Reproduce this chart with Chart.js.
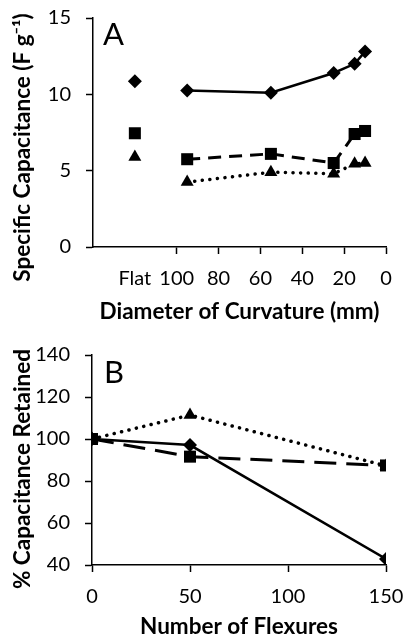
<!DOCTYPE html>
<html><head><meta charset="utf-8">
<script src="https://cdn.jsdelivr.net/npm/chart.js@4"></script>
<style>
html,body{margin:0;padding:0;background:#fff;width:405px;height:638px;overflow:hidden;}
#a{position:absolute;left:0;top:0;width:405px;height:330px;}
#b{position:absolute;left:0;top:320px;width:405px;height:318px;}
</style></head><body>
<div id="a"><canvas id="ca"></canvas></div>
<div id="b"><canvas id="cb"></canvas></div>
<script>
// ---------- Panel A data ----------
const diameterMM = [95, 55, 25, 15, 10];          // diameter of curvature (mm)
const flatPosition = 120;                          // where the "Flat" category sits on the axis
const flatValues = [10.85, 7.45, 5.9];             // diamond, square, triangle at Flat
const capDiamond  = [10.25, 10.1, 11.4, 12.0, 12.8];
const capSquare   = [5.75, 6.1, 5.5, 7.4, 7.6];
const capTriangle = [4.25, 4.9, 4.8, 5.45, 5.5];
const xTickLabelsA = {0:'0',20:'20',40:'40',60:'60',80:'80',100:'100',120:'Flat'};
// ---------- Panel B data ----------
const flexures = [0, 50, 150];
const retDiamond  = [100, 97.1, 42.9];
const retSquare   = [100, 91.6, 87.4];
const retTriangle = [100, 111.4, 87.2];

const FONT = 'Lato, "Open Sans", sans-serif';
const pts = (xs, ys) => xs.map((x, i) => ({x, y: ys[i]}));

// panel letter + vertical axis title (drawn as real canvas text)
const panelText = {
  id: 'panelText',
  afterDraw(chart, args, opts) {
    const {ctx, chartArea} = chart;
    ctx.save();
    ctx.fillStyle = '#000';
    ctx.font = '31px ' + FONT;
    ctx.textBaseline = 'alphabetic';
    ctx.textAlign = 'left';
    ctx.fillText(opts.letter, chartArea.left + opts.dx, chartArea.top + opts.dy);
    ctx.translate(opts.titleX, (chartArea.top + chartArea.bottom) / 2 + opts.titleShift);
    ctx.rotate(-Math.PI / 2);
    ctx.font = 'bold 22.5px ' + FONT;
    ctx.textAlign = 'center';
    ctx.textBaseline = 'middle';
    ctx.fillText(opts.yTitle, 0, 0);
    ctx.restore();
  }
};

function lineDs(data, width, dash, ptStyle, r) {
  return {
    data, showLine: true, borderColor: '#000', backgroundColor: '#000',
    borderWidth: width, borderDash: dash, borderCapStyle: dash.length && dash[0] < 1 ? 'round' : 'butt',
    pointStyle: ptStyle, pointRadius: r, pointBorderWidth: 0, pointBackgroundColor: '#000'
  };
}
function markDs(data, ptStyle, r) {
  return {data, showLine: false, backgroundColor: '#000', borderColor: '#000',
    pointStyle: ptStyle, pointRadius: r, pointBorderWidth: 0};
}
function noPad(s) { s.paddingTop = 0; s.paddingBottom = 0; s.paddingLeft = 0; s.paddingRight = 0; }

const DOT = [0.1, 7.5];
const DASH_A = [13, 8];
const DASH_B = [22, 10];
const R_DIAMOND = 7, R_SQUARE = 8.5, R_TRIANGLE = 7.5;
const TICK_FONT = {family: FONT, size: 20};
const TITLE_FONT = {family: FONT, size: 22.5, weight: 'bold', lineHeight: 1};

new Chart(document.getElementById('ca'), {
  type: 'scatter',
  data: {datasets: [
    lineDs(pts(diameterMM, capTriangle), 3.5, DOT, 'triangle', R_TRIANGLE),
    lineDs(pts(diameterMM, capSquare), 3, DASH_A, 'rect', R_SQUARE),
    lineDs(pts(diameterMM, capDiamond), 2.5, [], 'rectRot', R_DIAMOND),
    markDs([{x: flatPosition, y: flatValues[0]}], 'rectRot', R_DIAMOND),
    markDs([{x: flatPosition, y: flatValues[1]}], 'rect', R_SQUARE),
    markDs([{x: flatPosition, y: flatValues[2]}], 'triangle', R_TRIANGLE),
  ]},
  options: {
    responsive: true, maintainAspectRatio: false, animation: false,
    layout: {padding: {top: 18, right: 19, left: 0, bottom: 0}},
    plugins: {legend: {display: false}, tooltip: {enabled: false},
      panelText: {letter: 'A', dx: 10, dy: 27,
        yTitle: 'Specific Capacitance (F g\u207B\u00B9)', titleX: 22.5, titleShift: 15}},
    scales: {
      x: {
        type: 'linear', reverse: true, min: 0, max: 140,
        border: {color: '#000', width: 1.5},
        grid: {drawOnChartArea: false, tickLength: 7,
          tickColor: c => (c.tick && c.tick.value > 100) ? 'rgba(0,0,0,0)' : '#000', tickWidth: 1.5},
        ticks: {stepSize: 20, color: '#000', font: TICK_FONT, padding: 13, maxRotation: 0,
          callback: v => xTickLabelsA[v] !== undefined ? xTickLabelsA[v] : ''},
        title: {display: true, text: 'Diameter of Curvature (mm)', color: '#000',
          font: TITLE_FONT, padding: {top: 0, bottom: 7}},
        afterFit: s => { s.height = 83; noPad(s); }
      },
      y: {
        min: 0, max: 15,
        border: {color: '#000', width: 1.5},
        grid: {drawOnChartArea: false, tickLength: 7, tickColor: '#000', tickWidth: 1.5},
        ticks: {stepSize: 5, color: '#000', font: TICK_FONT, padding: 15},
        afterFit: s => { s.width = 93; noPad(s); }
      }
    }
  },
  plugins: [panelText]
});

new Chart(document.getElementById('cb'), {
  type: 'scatter',
  data: {datasets: [
    lineDs(pts(flexures, retTriangle), 3.5, DOT, 'triangle', R_TRIANGLE),
    lineDs(pts(flexures, retSquare), 3, DASH_B, 'rect', R_SQUARE),
    lineDs(pts(flexures, retDiamond), 2.5, [], 'rectRot', R_DIAMOND),
  ]},
  options: {
    responsive: true, maintainAspectRatio: false, animation: false,
    layout: {padding: {top: 35, right: 19, left: 0, bottom: 0}},
    plugins: {legend: {display: false}, tooltip: {enabled: false},
      panelText: {letter: 'B', dx: 12, dy: 28,
        yTitle: '% Capacitance Retained', titleX: 22.5, titleShift: 9}},
    scales: {
      x: {
        type: 'linear', min: 0, max: 150,
        border: {color: '#000', width: 1.5},
        grid: {drawOnChartArea: false, tickLength: 7, tickColor: '#000', tickWidth: 1.5},
        ticks: {stepSize: 50, color: '#000', font: TICK_FONT, padding: 13, maxRotation: 0},
        title: {display: true, text: 'Number of Flexures', color: '#000',
          font: TITLE_FONT, padding: {top: 0, bottom: 0}},
        afterFit: s => { s.height = 73; noPad(s); }
      },
      y: {
        min: 40, max: 140,
        border: {color: '#000', width: 1.5},
        grid: {drawOnChartArea: false, tickLength: 7, tickColor: '#000', tickWidth: 1.5},
        ticks: {stepSize: 20, color: '#000', font: TICK_FONT, padding: 15},
        afterFit: s => { s.width = 92; noPad(s); }
      }
    }
  },
  plugins: [panelText]
});
</script>
</body></html>
